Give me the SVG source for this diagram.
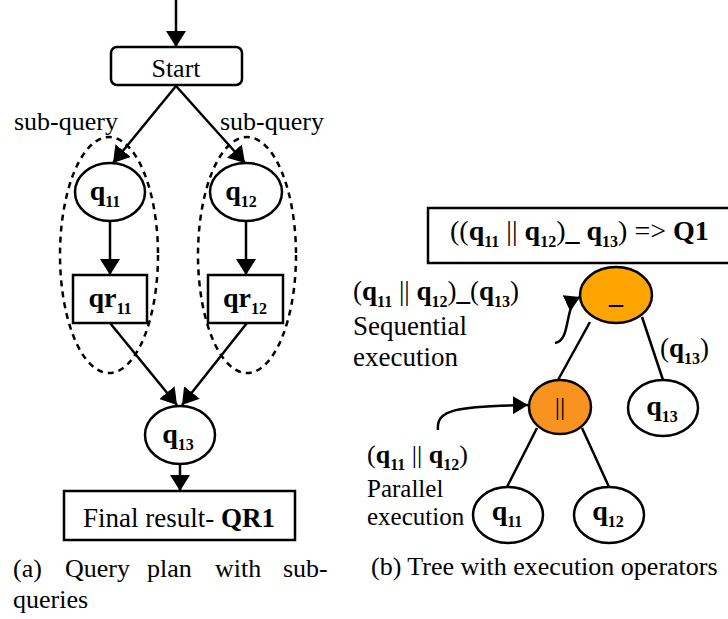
<svg xmlns="http://www.w3.org/2000/svg" width="728" height="619" viewBox="0 0 728 619">
<defs>
<marker id="ah" markerWidth="18" markerHeight="20" refX="16" refY="10" orient="auto" markerUnits="userSpaceOnUse"><path d="M0,0 L16,10 L0,20 z" fill="#000"/></marker>
<marker id="ah2" markerWidth="16" markerHeight="18" refX="15" refY="9" orient="auto" markerUnits="userSpaceOnUse"><path d="M0,0 L15,9 L0,18 z" fill="#000"/></marker>
</defs>
<style>
text{font-family:"Liberation Serif","Times New Roman",serif;fill:#000}
.b{font-weight:bold}
.s{font-size:16px;font-weight:bold}
.node{fill:#fff;stroke:#000;stroke-width:2.5}
.edge{stroke:#000;stroke-width:2.5;fill:none}
.dash{fill:none;stroke:#000;stroke-width:2.5;stroke-dasharray:6 5}
</style>
<rect width="728" height="619" fill="#fff"/>

<g id="connectors">
<line class="edge" x1="176" y1="0" x2="176" y2="47" marker-end="url(#ah)"/>
<line class="edge" x1="176" y1="86" x2="113" y2="163" marker-end="url(#ah)"/>
<line class="edge" x1="176" y1="86" x2="245" y2="163" marker-end="url(#ah)"/>
<line class="edge" x1="110" y1="222" x2="110" y2="275" marker-end="url(#ah)"/>
<line class="edge" x1="246" y1="222" x2="246" y2="275" marker-end="url(#ah)"/>
<line class="edge" x1="110" y1="323" x2="177" y2="405" marker-end="url(#ah)"/>
<line class="edge" x1="247" y1="323" x2="182" y2="405" marker-end="url(#ah)"/>
<line class="edge" x1="180" y1="465" x2="180" y2="491" marker-end="url(#ah)"/>
<line class="edge" x1="590" y1="322" x2="558" y2="380"/>
<line class="edge" x1="642" y1="317" x2="663" y2="380"/>
<line class="edge" x1="537" y1="428" x2="507" y2="487"/>
<line class="edge" x1="582" y1="428" x2="609" y2="487"/>
<path class="edge" d="M555,343 C572,340 563,305 580,297" marker-end="url(#ah2)"/>
<path class="edge" d="M438,430 C436,410 455,406 528,405" marker-end="url(#ah2)"/>
</g>

<g id="group-q11">
<ellipse class="dash" cx="109" cy="255" rx="49" ry="118"/>
</g>
<g id="group-q12">
<ellipse class="dash" cx="247" cy="255" rx="49" ry="118"/>
</g>

<g id="start">
<rect class="node" x="111" y="47" width="131" height="38" rx="6"/>
<text x="176" y="77" font-size="26" text-anchor="middle">Start</text>
</g>

<g id="label-subquery-1"><text x="14" y="130" font-size="26">sub-query</text></g>
<g id="label-subquery-2"><text x="220" y="130" font-size="26">sub-query</text></g>

<g id="q11">
<ellipse class="node" cx="110" cy="192" rx="35" ry="29"/>
<text x="105" y="200" font-size="28" text-anchor="middle"><tspan class="b">q</tspan><tspan class="s" dy="7">11</tspan></text>
</g>
<g id="q12">
<ellipse class="node" cx="246" cy="192" rx="36" ry="29"/>
<text x="241" y="200" font-size="28" text-anchor="middle"><tspan class="b">q</tspan><tspan class="s" dy="7">12</tspan></text>
</g>
<g id="qr11">
<rect class="node" x="73" y="275" width="74" height="48"/>
<text x="110" y="307" font-size="28" text-anchor="middle"><tspan class="b">qr</tspan><tspan class="s" dy="7">11</tspan></text>
</g>
<g id="qr12">
<rect class="node" x="208" y="275" width="75" height="48"/>
<text x="245" y="307" font-size="28" text-anchor="middle"><tspan class="b">qr</tspan><tspan class="s" dy="7">12</tspan></text>
</g>
<g id="q13">
<ellipse class="node" cx="180" cy="435" rx="35" ry="29"/>
<text x="178" y="443" font-size="28" text-anchor="middle"><tspan class="b">q</tspan><tspan class="s" dy="7">13</tspan></text>
</g>
<g id="final">
<rect class="node" x="64" y="491" width="231" height="49"/>
<text x="179" y="527" font-size="27" text-anchor="middle">Final result- <tspan class="b">QR1</tspan></text>
</g>

<g id="caption-a">
<text font-size="26" y="577"><tspan x="13">(a)</tspan><tspan x="65">Query</tspan><tspan x="147">plan</tspan><tspan x="215">with</tspan><tspan x="283">sub-</tspan></text>
<text font-size="26" x="13" y="608">queries</text>
</g>

<g id="expr">
<rect class="node" x="428" y="208" width="310" height="55"/>
<text x="450" y="240" font-size="28">((<tspan class="b">q</tspan><tspan class="s" dy="7">11</tspan><tspan dy="-7"> || </tspan><tspan class="b">q</tspan><tspan class="s" dy="7">12</tspan><tspan dy="-7">)</tspan><tspan class="b">_ q</tspan><tspan class="s" dy="7">13</tspan><tspan dy="-7">) =&gt;  </tspan><tspan class="b">Q1</tspan></text>
</g>

<g id="seq">
<ellipse cx="616" cy="295" rx="36" ry="28" fill="#FFA500" stroke="#000" stroke-width="2.5"/>
<text x="616" y="303" font-size="28" text-anchor="middle" class="b">_</text>
</g>
<g id="par">
<ellipse cx="560" cy="407" rx="31" ry="27" fill="#F7931E" stroke="#000" stroke-width="2.5"/>
<text x="560" y="415" font-size="26" text-anchor="middle">||</text>
</g>
<g id="t-q13">
<ellipse class="node" cx="663" cy="408" rx="35" ry="28"/>
<text x="662" y="415" font-size="28" text-anchor="middle"><tspan class="b">q</tspan><tspan class="s" dy="7">13</tspan></text>
</g>
<g id="t-q11">
<ellipse class="node" cx="508" cy="515" rx="35" ry="28"/>
<text x="507" y="520" font-size="28" text-anchor="middle"><tspan class="b">q</tspan><tspan class="s" dy="7">11</tspan></text>
</g>
<g id="t-q12">
<ellipse class="node" cx="609" cy="515" rx="35" ry="28"/>
<text x="608" y="520" font-size="28" text-anchor="middle"><tspan class="b">q</tspan><tspan class="s" dy="7">12</tspan></text>
</g>

<g id="label-seq">
<text x="353" y="300" font-size="27">(<tspan class="b">q</tspan><tspan class="s" dy="7">11</tspan><tspan dy="-7"> ||  </tspan><tspan class="b">q</tspan><tspan class="s" dy="7">12</tspan><tspan dy="-7">)</tspan><tspan class="b">_</tspan>(<tspan class="b">q</tspan><tspan class="s" dy="7">13</tspan><tspan dy="-7">)</tspan></text>
<text x="353" y="335" font-size="27">Sequential</text>
<text x="353" y="366" font-size="27">execution</text>
</g>
<g id="label-q13"><text x="660" y="357" font-size="27">(<tspan class="b">q</tspan><tspan class="s" dy="7">13</tspan><tspan dy="-7">)</tspan></text></g>
<g id="label-par">
<text x="367" y="463" font-size="26">(<tspan class="b">q</tspan><tspan class="s" dy="7">11</tspan><tspan dy="-7"> ||  </tspan><tspan class="b">q</tspan><tspan class="s" dy="7">12</tspan><tspan dy="-7">)</tspan></text>
<text x="367" y="497" font-size="25">Parallel</text>
<text x="367" y="525" font-size="25">execution</text>
</g>

<g id="caption-b"><text x="371" y="575" font-size="26">(b) Tree with execution operators</text></g>
</svg>
